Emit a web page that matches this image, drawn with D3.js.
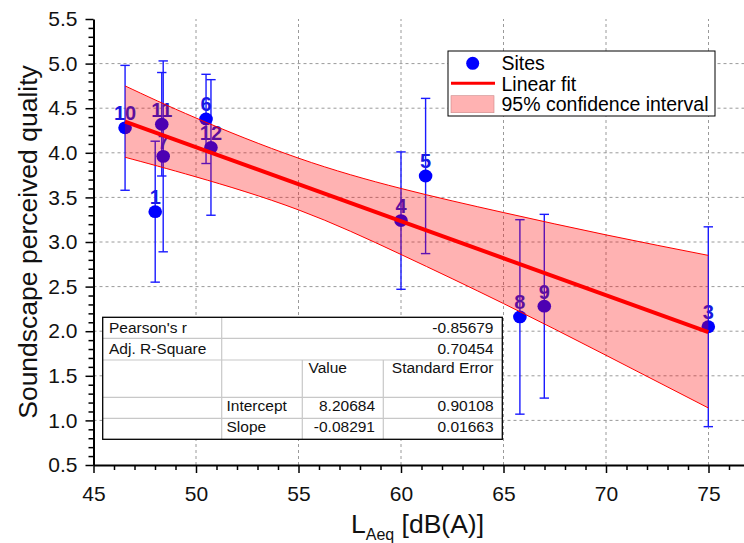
<!DOCTYPE html>
<html>
<head>
<meta charset="utf-8">
<script src="https://cdn.jsdelivr.net/npm/d3@7/dist/d3.min.js"></script>
<style>
  body { margin: 0; background: #fff; }
  text { font-family: "Liberation Sans", Arial, sans-serif; }
</style>
</head>
<body>
<div id="chart"></div>
<script>
// site data
const siteIds  = ["1", "3", "4", "5", "6", "7", "8", "9", "10", "11", "12"]
const laeq     = [48.01, 74.99, 60.0, 61.2, 50.49, 48.4, 65.8, 66.99, 46.54, 48.33, 50.73]
const quality  = [3.34, 2.05, 3.24, 3.74, 4.38, 3.96, 2.16, 2.28, 4.28, 4.32, 4.06]
const qualErr  = [0.79, 1.12, 0.77, 0.87, 0.50, 1.07, 1.09, 1.03, 0.70, 0.58, 0.76]

// linear fit and 95% band
const fitX      = [46.54, 74.99]
const fitY      = [4.35, 1.99]
const bandX     = [46.54, 50, 55, 60, 65, 70, 74.99]
const bandUpper = [4.75, 4.39, 3.94, 3.60, 3.33, 3.08, 2.85]
const bandLower = [3.95, 3.73, 3.36, 2.86, 2.31, 1.73, 1.14]

// stats table
const statNames  = ["Pearson's r", "Adj. R-Square"]
const statValues = ["-0.85679", "0.70454"]
const paramHead  = ["Value", "Standard Error"]
const paramNames = ["Intercept", "Slope"]
const paramVals  = ["8.20684", "-0.08291"]
const paramErrs  = ["0.90108", "0.01663"]

const legendLabels = ["Sites", "Linear fit", "95% confidence interval"]

const xTicks = [45, 50, 55, 60, 65, 70, 75]
const yTicks = [0.5, 1.0, 1.5, 2.0, 2.5, 3.0, 3.5, 4.0, 4.5, 5.0, 5.5]

const width = 744, height = 543

const svg = d3.select("#chart").append("svg")
    .attr("width", width)
    .attr("height", height)

let x = d3.scaleLinear().domain([45, 76.8]).range([93.5, 745.4])
let y = d3.scaleLinear().domain([0.5, 5.5]).range([465, 19])

// grid
let grid = svg.append("g")
    .attr("stroke", "#9a9a9a")
    .attr("stroke-width", 1)
    .attr("stroke-dasharray", "3,3")
grid.selectAll(".gx")
    .data(xTicks.slice(1))
    .join("line")
    .attr("x1", d => x(d)).attr("x2", d => x(d))
    .attr("y1", y(0.5)).attr("y2", y(5.5))
grid.selectAll(".gy")
    .data(yTicks.slice(1, -1))
    .join("line")
    .attr("x1", x(45)).attr("x2", x(76.8))
    .attr("y1", d => y(d)).attr("y2", d => y(d))

const blue = "#0000ff"
let pts = siteIds.map((id, i) => ({ id, x: laeq[i], y: quality[i], e: qualErr[i] }))

// labels first, points cover them (like the 7 under 11)
svg.append("g")
    .selectAll("text")
    .data(pts)
    .join("text")
    .attr("x", d => x(d.x))
    .attr("y", d => y(d.y) - 7.5)
    .attr("text-anchor", "middle")
    .attr("font-size", "20px")
    .attr("font-weight", "bold")
    .attr("fill", "#1818e0")
    .text(d => d.id)

// error bars
let eb = svg.append("g").attr("stroke", "#1a1aff").attr("stroke-width", 1.4)
eb.selectAll(".v").data(pts).join("line")
    .attr("x1", d => x(d.x)).attr("x2", d => x(d.x))
    .attr("y1", d => y(d.y + d.e)).attr("y2", d => y(d.y - d.e))
eb.selectAll(".t").data(pts).join("line")
    .attr("x1", d => x(d.x) - 4.7).attr("x2", d => x(d.x) + 4.7)
    .attr("y1", d => y(d.y + d.e)).attr("y2", d => y(d.y + d.e))
eb.selectAll(".b").data(pts).join("line")
    .attr("x1", d => x(d.x) - 4.7).attr("x2", d => x(d.x) + 4.7)
    .attr("y1", d => y(d.y - d.e)).attr("y2", d => y(d.y - d.e))

svg.append("g")
    .selectAll("ellipse")
    .data(pts)
    .join("ellipse")
    .attr("cx", d => x(d.x))
    .attr("cy", d => y(d.y))
    .attr("rx", 6.8)
    .attr("ry", 6.4)
    .attr("fill", blue)

// confidence band on top (transparent), then fit line
let band = bandX.map((v, i) => ({ x: v, u: bandUpper[i], l: bandLower[i] }))
svg.append("path")
    .datum(band)
    .attr("fill", "rgba(255,0,0,0.3)")
    .attr("d", d3.area().curve(d3.curveNatural).x(d => x(d.x)).y0(d => y(d.l)).y1(d => y(d.u)))
svg.append("path")
    .datum(band)
    .attr("fill", "none").attr("stroke", "#ff0000").attr("stroke-width", 1)
    .attr("d", d3.line().curve(d3.curveNatural).x(d => x(d.x)).y(d => y(d.u)))
svg.append("path")
    .datum(band)
    .attr("fill", "none").attr("stroke", "#ff0000").attr("stroke-width", 1)
    .attr("d", d3.line().curve(d3.curveNatural).x(d => x(d.x)).y(d => y(d.l)))

svg.append("path")
    .datum(fitX.map((v, i) => [v, fitY[i]]))
    .attr("fill", "none")
    .attr("stroke", "#ff0000")
    .attr("stroke-width", 4)
    .attr("d", d3.line().x(d => x(d[0])).y(d => y(d[1])))

// axes
let xMinor = d3.range(46, 77, 1).filter(d => d % 5 !== 0)
let yMinor = d3.range(6, 55, 1).filter(d => d % 5 !== 0).map(d => d / 10)

let xAxis = svg.append("g").attr("transform", `translate(0,${y(0.5)})`)
    .call(d3.axisBottom(x).tickValues(xTicks).tickSize(8).tickSizeOuter(0).tickPadding(13).tickFormat(d3.format("d")))
xAxis.append("g")
    .call(d3.axisBottom(x).tickValues(xMinor).tickSize(5).tickFormat(""))
    .select(".domain").remove()
xAxis.selectAll("text").attr("font-size", "21px").attr("fill", "#111").style("font-family", "'Liberation Sans', Arial, sans-serif")

let yAxis = svg.append("g").attr("transform", `translate(${x(45)},0)`)
    .call(d3.axisLeft(y).tickValues(yTicks).tickSize(8).tickSizeOuter(0).tickPadding(8).tickFormat(d3.format(".1f")))
yAxis.append("g")
    .call(d3.axisLeft(y).tickValues(yMinor).tickSize(5).tickFormat(""))
    .select(".domain").remove()
yAxis.selectAll("text").attr("font-size", "21px").attr("fill", "#111").style("font-family", "'Liberation Sans', Arial, sans-serif")

svg.selectAll(".domain").attr("stroke", "#000").attr("stroke-width", 2)
svg.selectAll(".tick line").attr("stroke", "#000").attr("stroke-width", 1.5)

// axis titles
svg.append("text")
    .attr("transform", "translate(37,242) rotate(-90)")
    .attr("text-anchor", "middle")
    .attr("font-size", "26.5px")
    .attr("fill", "#111")
    .text("Soundscape perceived quality")

let xt = svg.append("text")
    .attr("x", 351).attr("y", 533)
    .attr("font-size", "26.5px")
    .attr("fill", "#111")
xt.append("tspan").text("L")
xt.append("tspan").attr("font-size", "16px").attr("dy", 7).text("Aeq")
xt.append("tspan").attr("dy", -7).text(" [dB(A)]")

// legend
let lg = svg.append("g")
lg.append("rect")
    .attr("x", 448).attr("y", 51).attr("width", 267).attr("height", 65)
    .attr("fill", "#fff").attr("stroke", "#000").attr("stroke-width", 1)
lg.append("circle").attr("cx", 472.7).attr("cy", 63.3).attr("r", 6.5).attr("fill", blue)
lg.append("line").attr("x1", 451).attr("x2", 495).attr("y1", 83.3).attr("y2", 83.3)
    .attr("stroke", "#ff0000").attr("stroke-width", 3)
lg.append("rect").attr("x", 451).attr("y", 95.7).attr("width", 43).attr("height", 17)
    .attr("fill", "rgba(255,0,0,0.3)").attr("stroke", "#cc8888").attr("stroke-width", 0.6)
lg.selectAll(".lt")
    .data(legendLabels)
    .join("text")
    .attr("x", 501.5)
    .attr("y", (d, i) => 70 + i * 20.5)
    .attr("font-size", "19.5px")
    .attr("fill", "#000")
    .text(d => d)

// stats table
let tb = svg.append("g")
let tx0 = 102.7, tx1 = 221.7, tx2 = 302.3, tx3 = 383.3, tx4 = 502.3
let rowY = [317.3, 338.3, 360, 397.3, 418.3, 439.3]
tb.append("rect")
    .attr("x", tx0).attr("y", rowY[0]).attr("width", tx4 - tx0).attr("height", rowY[5] - rowY[0])
    .attr("fill", "#fff")
let gl = tb.append("g").attr("stroke", "#c8c8c8").attr("stroke-width", 1.2)
gl.selectAll(".rl").data(rowY.slice(1, -1)).join("line")
    .attr("x1", tx0).attr("x2", tx4).attr("y1", d => d).attr("y2", d => d)
gl.append("line").attr("x1", tx1).attr("x2", tx1).attr("y1", rowY[0]).attr("y2", rowY[5])
gl.append("line").attr("x1", tx2).attr("x2", tx2).attr("y1", rowY[2]).attr("y2", rowY[5])
gl.append("line").attr("x1", tx3).attr("x2", tx3).attr("y1", rowY[2]).attr("y2", rowY[5])
tb.append("rect")
    .attr("x", tx0).attr("y", rowY[0]).attr("width", tx4 - tx0).attr("height", rowY[5] - rowY[0])
    .attr("fill", "none").attr("stroke", "#000").attr("stroke-width", 1.3)

let fs = "15.5px"
function cell(t, xx, yy, anchor) {
    tb.append("text").attr("x", xx).attr("y", yy).attr("text-anchor", anchor)
        .attr("font-size", fs).attr("fill", "#111").text(t)
}
statNames.forEach((t, i) => cell(t, 109, [332.5, 354][i], "start"))
statValues.forEach((t, i) => cell(t, 493.5, [332.5, 354][i], "end"))
cell(paramHead[0], 308.5, 372.5, "start")
cell(paramHead[1], 493.5, 372.5, "end")
paramNames.forEach((t, i) => cell(t, 226.5, [411, 432][i], "start"))
paramVals.forEach((t, i) => cell(t, 375, [411, 432][i], "end"))
paramErrs.forEach((t, i) => cell(t, 493.5, [411, 432][i], "end"))
</script>
</body>
</html>
